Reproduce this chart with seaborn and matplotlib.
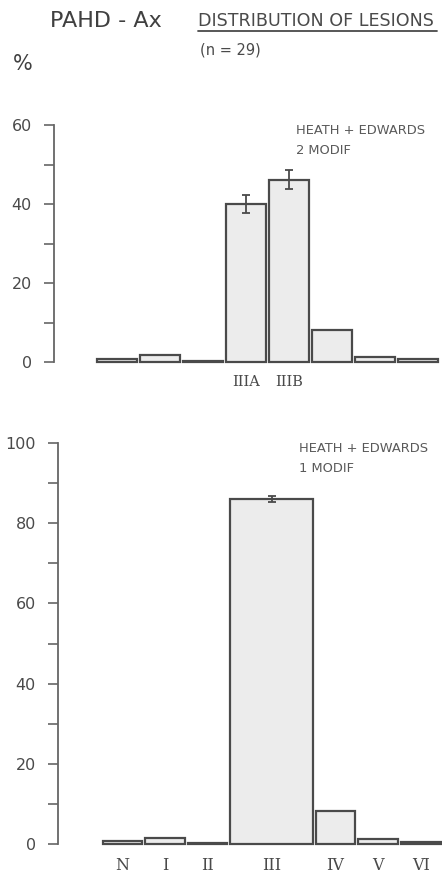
import numpy as np
import matplotlib
matplotlib.use("Agg")
import matplotlib.pyplot as plt
import seaborn as sns
from matplotlib.ticker import MultipleLocator
from matplotlib.lines import Line2D

# upper panel: Heath + Edwards, 2 modif (class III split in A / B)
top_classes = ["N", "I", "II", "IIIA", "IIIB", "IV", "V", "VI"]
top_pct = [0.8, 1.7, 0.3, 40.0, 46.2, 8.2, 1.2, 0.8]
top_err = [0, 0, 0, 2.4, 2.5, 0, 0, 0]
top_ticklabels = ["", "", "", "IIIA", "IIIB", "", "", ""]

# lower panel: Heath + Edwards, 1 modif
bottom_classes = ["N", "I", "II", "III", "IV", "V", "VI"]
bottom_pct = [0.8, 1.5, 0.3, 86.0, 8.2, 1.3, 0.5]
bottom_err = [0, 0, 0, 0.7, 0, 0, 0]
bottom_span = [1, 1, 1, 2, 1, 1, 1]  # III covers IIIA + IIIB of the upper panel

INK = "#4a4a4a"
FILL = "#ececec"
GAP = 0.07

sns.set_style("white")
plt.rcParams["font.family"] = ["DejaVu Sans"]

fig = plt.figure(figsize=(4.42, 8.74), dpi=100)
W, H = 442, 874
ax1 = fig.add_axes([54 / W, (H - 362) / H, 386 / W, 237 / H])
ax2 = fig.add_axes([58 / W, (H - 844) / H, 384 / W, 401 / H])


def style_axis(ax, top):
    sns.despine(ax=ax, bottom=True)
    ax.spines["left"].set_color("#666666")
    ax.spines["left"].set_linewidth(1.3)
    ax.set_ylim(0, top)
    ax.yaxis.set_major_locator(MultipleLocator(20))
    ax.yaxis.set_minor_locator(MultipleLocator(10))
    ax.tick_params(axis="y", which="both", left=True, length=7, width=1.2,
                   color="#666666", labelsize=11.5, labelcolor=INK, pad=9)
    ax.tick_params(axis="x", length=0, pad=9, labelcolor=INK)
    ax.set_xlabel("")
    ax.set_ylabel("")
    for p in ax.patches:
        p.set_clip_on(False)


# ---- upper panel ----
x_top = np.arange(len(top_classes))
sns.barplot(x=top_classes, y=top_pct, order=top_classes, color=FILL,
            saturation=1, width=1 - GAP, edgecolor=INK, linewidth=1.6, ax=ax1)
err = np.array(top_err)
m = err > 0
ax1.errorbar(x_top[m], np.array(top_pct)[m], yerr=err[m], fmt="none",
             ecolor=INK, elinewidth=1.3, capsize=3, capthick=1.3)
ax1.set_xlim(-1.465, 7.51)
style_axis(ax1, 60)
ax1.set_xticks(x_top)
ax1.set_xticklabels(top_ticklabels, family="DejaVu Serif", fontsize=10.5)

# ---- lower panel ----
span = np.array(bottom_span, dtype=float)
x_bot = np.cumsum(span) - span / 2 - 0.5
sns.barplot(x=x_bot, y=bottom_pct, native_scale=True, color=FILL,
            saturation=1, width=1 - GAP, edgecolor=INK, linewidth=1.6, ax=ax2)
# widen the bars that cover more than one class slot
for p in ax2.patches:
    cx = p.get_x() + p.get_width() / 2
    i = int(np.argmin(np.abs(x_bot - cx)))
    if span[i] > 1:
        p.set_width(span[i] - GAP)
        p.set_x(x_bot[i] - (span[i] - GAP) / 2)
err = np.array(bottom_err)
m = err > 0
ax2.errorbar(x_bot[m], np.array(bottom_pct)[m], yerr=err[m], fmt="none",
             ecolor=INK, elinewidth=1.3, capsize=3, capthick=1.3)
ax2.set_xlim(-1.51, 7.5)
style_axis(ax2, 100)
ax2.set_xticks(x_bot)
ax2.set_xticklabels(bottom_classes, family="DejaVu Serif", fontsize=11.5)

# ---- annotations ----
for ax, line2 in [(ax1, "2 MODIF"), (ax2, "1 MODIF")]:
    ax.annotate("HEATH + EDWARDS", xy=(0.627, 1.0), xycoords="axes fraction",
                xytext=(0, -4), textcoords="offset points",
                fontsize=9.4, color="#5a5a5a", va="center", ha="left")
    ax.annotate(line2, xy=(0.627, 1.0), xycoords="axes fraction",
                xytext=(0, -18), textcoords="offset points",
                fontsize=9.4, color="#5a5a5a", va="center", ha="left")

fig.text(50 / W, 1 - 21 / H, "PAHD - Ax", fontsize=16, color="#404040",
         va="center", ha="left")
fig.text(198 / W, 1 - 21 / H, "DISTRIBUTION OF LESIONS", fontsize=12.6,
         color="#4a4a4a", va="center", ha="left")
fig.add_artist(Line2D([198 / W, 437 / W], [1 - 31 / H, 1 - 31 / H],
                      color="#4a4a4a", lw=1.3))
fig.text(200 / W, 1 - 50 / H, "(n = 29)", fontsize=10.5, color="#4a4a4a",
         va="center", ha="left")
fig.text(13 / W, 1 - 64 / H, "%", fontsize=15, color="#404040",
         va="center", ha="left")

fig.savefig("out.png", dpi=100)
